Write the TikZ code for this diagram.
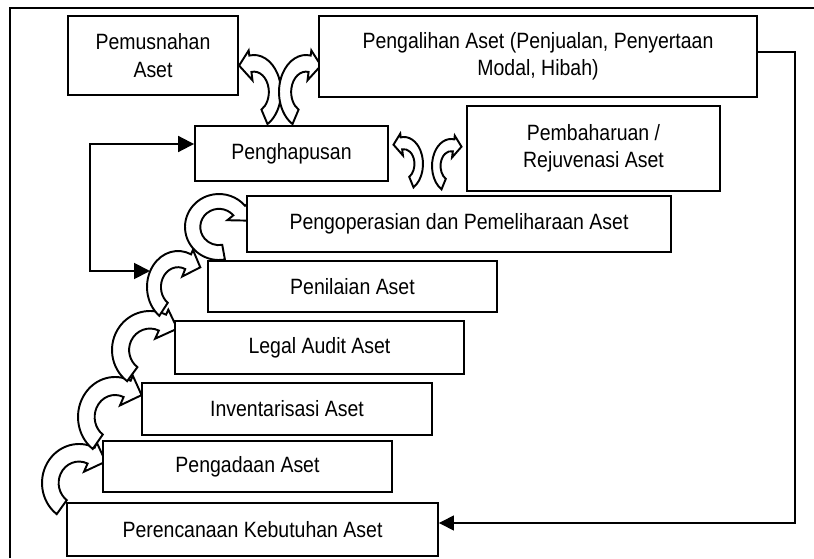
\documentclass[tikz,border=0pt]{standalone}
\usepackage{fontspec}
\setmainfont[FakeStretch=0.88]{Liberation Sans}
\usetikzlibrary{arrows.meta,calc}

\tikzset{
    pics/turn/.style={code={
        \draw[fill=white, line width=1.1pt, line join=miter]
            (#1:1) arc[start angle=#1, end angle=90, radius=1]
            -- (0,1.14) -- (0.42,0.8) -- (0,0.32) -- (0,0.55)
            arc[start angle=90, end angle=#1, radius=0.55] -- cycle;
    }}
}

\begin{document}
\begin{tikzpicture}[
    x=0.02cm, y=0.02cm,
    stage/.style={rectangle, draw, line width=1.1pt, fill=white, align=center, inner sep=2pt, font=\fontsize{12.6}{15.5}\selectfont},
    link/.style={line width=1.1pt, >={Triangle[length=9pt,width=9pt]}},
    back/.style={line width=0.75pt, ->, >={Triangle[length=8.5pt,width=8.5pt]}}
]
\useasboundingbox (0,0) rectangle (814,558);
\draw[line width=1.1pt] (10,0) -- (10,550) -- (814,550);

% curved arrows up the stairs
\pic[shift={(79,75)}, xscale=37, yscale=39, rotate=-25] {turn=258};
\pic[shift={(115,141)}, xscale=37, yscale=40, rotate=-25] {turn=258};
\pic[shift={(150,208)}, xscale=38, yscale=39, rotate=-25] {turn=258};
\pic[shift={(178,271)}, xscale=31, yscale=36, rotate=-25] {turn=258};
\pic[shift={(219,331)}, xscale=34, yscale=33, rotate=-50] {turn=330};
% curved arrows at the top
\pic[shift={(254,466)}, xscale=-27, yscale=37, rotate=-10] {turn=250};
\pic[shift={(306,466)}, xscale=27, yscale=37, rotate=-10] {turn=250};
\pic[shift={(404,394)}, xscale=-19, yscale=27, rotate=-10] {turn=250};
\pic[shift={(451,392)}, xscale=19, yscale=27, rotate=-10] {turn=250};

\node[stage, minimum width=3.4cm, minimum height=1.58cm] (musnah) at (153,502.5) {Pemusnahan\\Aset};
\node[stage, minimum width=8.76cm, minimum height=1.62cm] (alih) at (538,501.5) {Pengalihan Aset (Penjualan, Penyertaan\\Modal, Hibah)};
\node[stage, minimum width=3.86cm, minimum height=1.1cm] (hapus) at (291.5,404.5) {Penghapusan};
\node[stage, minimum width=5.06cm, minimum height=1.7cm] (baharu) at (593.5,409.5) {Pembaharuan /\\Rejuvenasi Aset};
\node[stage, minimum width=8.48cm, minimum height=1.12cm] (operasi) at (459,334) {Pengoperasian dan Pemeliharaan Aset};
\node[stage, minimum width=5.78cm, minimum height=1.02cm] (nilai) at (352.5,271.5) {Penilaian Aset};
\node[stage, minimum width=5.78cm, minimum height=1.06cm] (audit) at (319.5,210.5) {Legal Audit Aset};
\node[stage, minimum width=5.8cm, minimum height=1.04cm] (inventaris) at (287,149) {Inventarisasi Aset};
\node[stage, minimum width=5.78cm, minimum height=1.02cm] (adaan) at (247.5,91.5) {Pengadaan Aset};
\node[stage, minimum width=7.42cm, minimum height=1.06cm] (rencana) at (252.5,28.5) {Perencanaan Kebutuhan Aset};

\coordinate (fb) at (150,287);

\draw[link, <->] (fb) -| ++(-60,127) -- ($(hapus.west)+(0,9.5)$);
\draw[back] ($(alih.east)+(0,4.5)$) -- ++(37,0) |- ($(rencana.east)+(0,6.5)$);

\end{tikzpicture}
\end{document}
